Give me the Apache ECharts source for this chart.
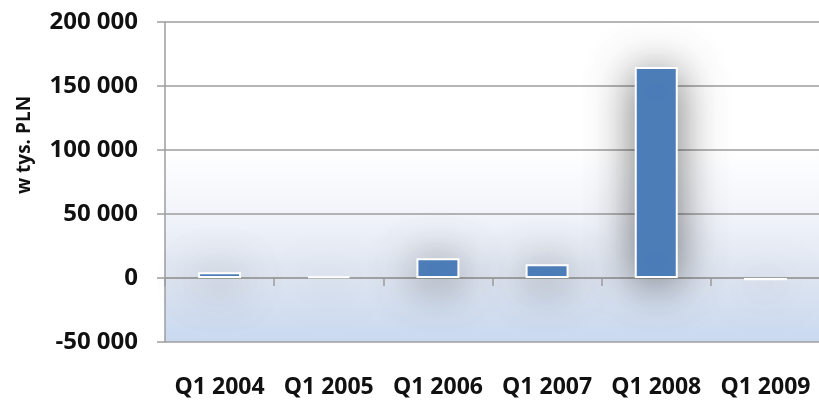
<!DOCTYPE html>
<html>
<head>
<meta charset="utf-8">
<script src="https://cdn.jsdelivr.net/npm/echarts@6/dist/echarts.min.js"></script>
<style>
  html, body { margin: 0; padding: 0; background: #fff; }
  #chart { width: 819px; height: 400px; }
</style>
</head>
<body>
<div id="chart"></div>
<script>
  // kwartaly i wartosci (w tys. PLN)
  const categories = ['Q1 2004', 'Q1 2005', 'Q1 2006', 'Q1 2007', 'Q1 2008', 'Q1 2009'];
  const values = [4500, 1200, 15500, 10800, 164800, -1800];
  const yTicks = { min: -50000, max: 200000, interval: 50000 };
  const yTitle = 'w tys. PLN';

  const fontFamily = '"Open Sans", "DejaVu Sans", sans-serif';
  const gridColor = '#9e9e9e';

  const fmt = function(v) {
    return String(v).replace(/\B(?=(\d{3})+(?!\d))/g, ' ');
  };

  const myChart = echarts.init(document.getElementById('chart'));
  const options = {
    animation: false,
    backgroundColor: '#ffffff',
    grid: {
      left: 165,
      right: -1,
      top: 22,
      bottom: 58,
      containLabel: false,
      outerBoundsMode: 'none',
      show: true,
      borderWidth: 0,
      backgroundColor: new echarts.graphic.LinearGradient(0, 0, 0, 1, [
        { offset: 0, color: '#ffffff' },
        { offset: 0.4, color: '#ffffff' },
        { offset: 0.6, color: '#f1f4fa' },
        { offset: 0.8, color: '#dee5f1' },
        { offset: 1, color: '#c9d9f0' }
      ])
    },
    xAxis: [
      {
        // linia na zerze z podzialkami
        type: 'category',
        data: categories,
        axisLine: {
          onZero: true,
          lineStyle: { color: gridColor, width: 1.5 }
        },
        axisTick: {
          show: true,
          interval: 0,
          length: 8,
          lineStyle: { color: gridColor, width: 1.5 }
        },
        axisLabel: { show: false },
        splitLine: { show: false }
      },
      {
        // etykiety na dole
        type: 'category',
        data: categories,
        position: 'bottom',
        axisLine: { show: false, onZero: false },
        axisTick: { show: false },
        axisLabel: {
          interval: 0,
          margin: 34,
          color: '#111',
          fontFamily: fontFamily,
          fontWeight: 'bold',
          fontSize: 23
        },
        splitLine: { show: false }
      }
    ],
    yAxis: {
      type: 'value',
      min: yTicks.min,
      max: yTicks.max,
      interval: yTicks.interval,
      axisLine: {
        show: true,
        lineStyle: { color: gridColor, width: 1.5 }
      },
      axisTick: {
        show: true,
        length: 8,
        lineStyle: { color: gridColor, width: 1.5 }
      },
      axisLabel: {
        margin: 27,
        color: '#111',
        fontFamily: fontFamily,
        fontWeight: 'bold',
        fontSize: 24,
        formatter: fmt
      },
      splitLine: {
        show: true,
        lineStyle: { color: gridColor, width: 1.5 }
      }
    },
    graphic: [
      {
        type: 'text',
        x: 25,
        y: 145,
        rotation: Math.PI / 2,
        style: {
          text: yTitle,
          fill: '#111',
          font: 'bold 19px ' + fontFamily,
          textAlign: 'center',
          textVerticalAlign: 'middle'
        }
      }
    ],
    series: [
      {
        type: 'bar',
        data: values,
        barWidth: 43,
        itemStyle: {
          color: '#4f81bd',
          borderColor: '#ffffff',
          borderWidth: 2,
          shadowBlur: 45,
          shadowColor: 'rgba(0, 0, 0, 0.55)',
          shadowOffsetY: 5
        }
      }
    ]
  };
  myChart.setOption(options);
</script>
</body>
</html>
